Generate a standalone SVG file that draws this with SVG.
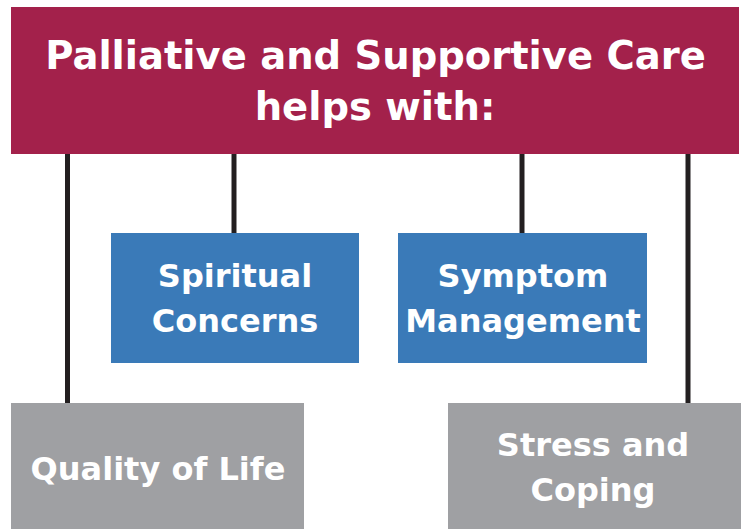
<svg xmlns="http://www.w3.org/2000/svg" width="745" height="529" viewBox="0 0 745 529">
<style>
.hdr{fill:#A3214B}
.blue{fill:#3A7AB8}
.gray{fill:#9FA0A3}
.conn{stroke:#231F20;stroke-width:5;fill:none}
text{font-family:"DejaVu Sans","Open Sans","Liberation Sans",sans-serif;font-weight:700;fill:#FFFFFF;text-anchor:middle}
.t1{font-size:38.5px}
.t2{font-size:32px}
</style>
<rect width="745" height="529" fill="#FFFFFF"/>
<g id="connectors">
<line class="conn" x1="67.5" y1="150" x2="67.5" y2="405"/>
<line class="conn" x1="234" y1="150" x2="234" y2="235"/>
<line class="conn" x1="522" y1="150" x2="522" y2="235"/>
<line class="conn" x1="688" y1="150" x2="688" y2="405"/>
</g>
<g id="header">
<rect class="hdr" x="11" y="7" width="728" height="147"/>
<text class="t1" x="375.5" y="69">Palliative and Supportive Care</text>
<text class="t1" x="375" y="120">helps with:</text>
</g>
<g id="spiritual">
<rect class="blue" x="111" y="233" width="248" height="130"/>
<text class="t2" x="235" y="287">Spiritual</text>
<text class="t2" x="235" y="332">Concerns</text>
</g>
<g id="symptom">
<rect class="blue" x="398" y="233" width="249" height="130"/>
<text class="t2" x="523" y="287">Symptom</text>
<text class="t2" x="523" y="332">Management</text>
</g>
<g id="quality">
<rect class="gray" x="11" y="403" width="293" height="126"/>
<text class="t2" x="158" y="480">Quality of Life</text>
</g>
<g id="stress">
<rect class="gray" x="448" y="403" width="293" height="126"/>
<text class="t2" x="593" y="456">Stress and</text>
<text class="t2" x="593" y="501">Coping</text>
</g>
</svg>
